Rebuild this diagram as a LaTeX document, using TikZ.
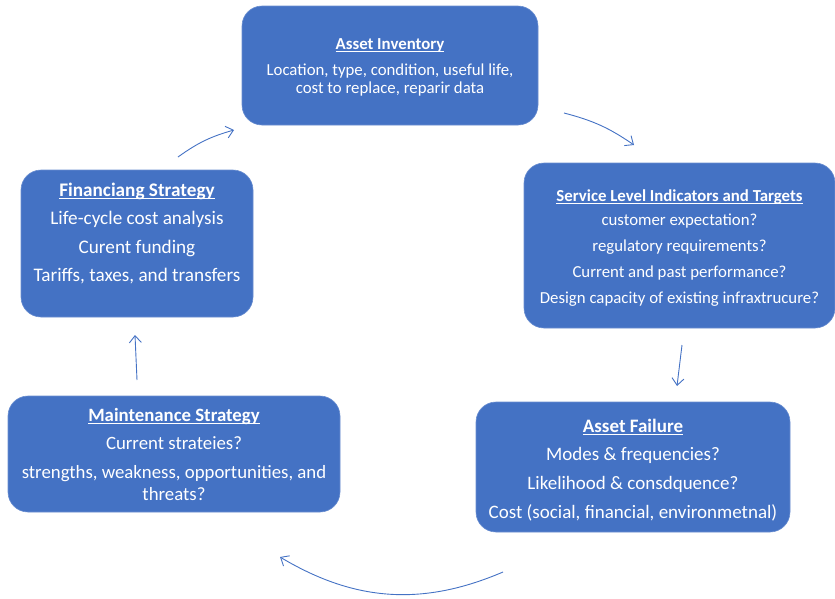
\documentclass[tikz,border=0pt]{standalone}
\usepackage{fontspec}
\setmainfont{Carlito}
\usetikzlibrary{arrows.meta}
\definecolor{boxblue}{HTML}{4472C4}
\definecolor{arrblue}{HTML}{4472C4}
\tikzset{
  box/.style={fill=boxblue, draw=boxblue!80!white, line width=0.6pt, rounded corners=20pt, inner sep=0pt, outer sep=0pt},
  txt/.style={text=white, align=center, inner sep=0pt},
  conn/.style={draw=arrblue, line width=0.9pt, -{Straight Barb[length=7pt,width=12pt,line width=0.9pt]}},
}
\newcommand{\ttl}[1]{\textbf{\setbox0\hbox{#1}\rlap{\rule[-2.6pt]{\wd0}{0.9pt}}\box0}}
\begin{document}
\begin{tikzpicture}[x=1pt,y=-1pt]
\useasboundingbox (0,0) rectangle (835,598);
% boxes
\node[box, minimum width=296pt, minimum height=119pt] (inv) at (390,65.5) {};
\node[box, minimum width=311pt, minimum height=165pt] (svc) at (679.5,245.5) {};
\node[box, minimum width=314pt, minimum height=130pt] (fail) at (633,467) {};
\node[box, minimum width=332pt, minimum height=116pt] (mnt) at (174,454) {};
\node[box, minimum width=232pt, minimum height=147pt] (fin) at (137,243.5) {};
% texts
\node[txt, font=\fontsize{16.8}{18}\selectfont] (invt) at (390,67) {\ttl{Asset Inventory}\\[8pt]Location, type, condition, useful life,\\cost to replace, reparir data};
\node[txt, font=\fontsize{16.8}{26}\selectfont] (svct) at (679.5,248) {\ttl{Service Level Indicators and Targets}\\[-2pt]customer expectation?\\regulatory requirements?\\Current and past performance?\\Design capacity of existing infraxtrucure?};
\node[txt, font=\fontsize{19}{29}\selectfont] (failt) at (633,470) {{\fontsize{19}{29}\selectfont\ttl{Asset Failure}}\\[-1pt]Modes \& frequencies?\\Likelihood \& consdquence?\\Cost (social, financial, environmetnal)};
\node[txt, font=\fontsize{18.8}{22}\selectfont] (mntt) at (174,454.5) {\ttl{Maintenance Strategy}\\[6pt]Current strateies?\\[7pt]strengths, weakness, opportunities, and\\threats?};
\node[txt, font=\fontsize{19.2}{28.5}\selectfont] (fint) at (137,233.5) {\ttl{Financiang Strategy}\\Life-cycle cost analysis\\Curent funding\\Tariffs, taxes, and transfers};
% connector ends
\coordinate (a1s) at (178,157);
\coordinate (a1e) at (234,130);
\coordinate (a2s) at (564,113);
\coordinate (a2e) at (634,145);
\coordinate (a3s) at (682,345);
\coordinate (a3e) at (677,386);
\coordinate (a4s) at (503,572);
\coordinate (a4e) at (280,557);
\coordinate (a5s) at (137,380);
\coordinate (a5e) at (135,335);
\draw[conn] (a1s) to[bend left=10] (a1e);
\draw[conn] (a2s) to[bend left=10] (a2e);
\draw[conn] (a3s) to (a3e);
\draw[conn] (a4s) to[bend left=27] (a4e);
\draw[conn] (a5s) to (a5e);
\end{tikzpicture}
\end{document}
